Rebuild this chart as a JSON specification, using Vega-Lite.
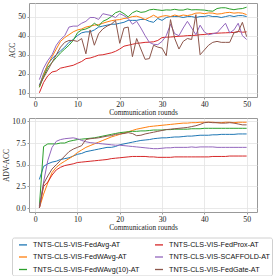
{
  "$schema": "https://vega.github.io/schema/vega-lite/v6.json",
  "padding": {"left": 1, "top": 2, "right": 0, "bottom": 0},
  "bounds": "flush",
  "spacing": 21,
  "datasets": {
    "runs": [
      {"r":1,"k":"FedAvg","acc":14,"adv":3.3},{"r":2,"k":"FedAvg","acc":20,"adv":4.8},{"r":3,"k":"FedAvg","acc":25,"adv":5.1},{"r":4,"k":"FedAvg","acc":28,"adv":5.3},{"r":5,"k":"FedAvg","acc":30,"adv":5.4},{"r":6,"k":"FedAvg","acc":32,"adv":5.6},{"r":7,"k":"FedAvg","acc":34,"adv":5.7},{"r":8,"k":"FedAvg","acc":36.5,"adv":5.8},{"r":9,"k":"FedAvg","acc":38,"adv":6.0},{"r":10,"k":"FedAvg","acc":40,"adv":6.2},
      {"r":11,"k":"FedAvg","acc":41.5,"adv":6.3},{"r":12,"k":"FedAvg","acc":42,"adv":6.5},{"r":13,"k":"FedAvg","acc":42,"adv":6.6},{"r":14,"k":"FedAvg","acc":43,"adv":6.7},{"r":15,"k":"FedAvg","acc":44.5,"adv":6.8},{"r":16,"k":"FedAvg","acc":45,"adv":6.9},{"r":17,"k":"FedAvg","acc":45.5,"adv":7.0},{"r":18,"k":"FedAvg","acc":46,"adv":7.0},{"r":19,"k":"FedAvg","acc":46,"adv":7.1},{"r":20,"k":"FedAvg","acc":46.5,"adv":7.3},
      {"r":21,"k":"FedAvg","acc":47,"adv":7.4},{"r":22,"k":"FedAvg","acc":48,"adv":7.5},{"r":23,"k":"FedAvg","acc":48,"adv":7.6},{"r":24,"k":"FedAvg","acc":48,"adv":7.7},{"r":25,"k":"FedAvg","acc":48.5,"adv":7.8},{"r":26,"k":"FedAvg","acc":48.5,"adv":7.85},{"r":27,"k":"FedAvg","acc":47.5,"adv":7.9},{"r":28,"k":"FedAvg","acc":47,"adv":8.0},{"r":29,"k":"FedAvg","acc":49,"adv":8.05},{"r":30,"k":"FedAvg","acc":48,"adv":8.1},
      {"r":31,"k":"FedAvg","acc":49.5,"adv":8.1},{"r":32,"k":"FedAvg","acc":50,"adv":8.15},{"r":33,"k":"FedAvg","acc":50,"adv":8.2},{"r":34,"k":"FedAvg","acc":50,"adv":8.2},{"r":35,"k":"FedAvg","acc":49.5,"adv":8.25},{"r":36,"k":"FedAvg","acc":50,"adv":8.3},{"r":37,"k":"FedAvg","acc":50,"adv":8.3},{"r":38,"k":"FedAvg","acc":49.5,"adv":8.35},{"r":39,"k":"FedAvg","acc":50,"adv":8.4},{"r":40,"k":"FedAvg","acc":50,"adv":8.4},
      {"r":41,"k":"FedAvg","acc":50.5,"adv":8.4},{"r":42,"k":"FedAvg","acc":50,"adv":8.45},{"r":43,"k":"FedAvg","acc":50,"adv":8.45},{"r":44,"k":"FedAvg","acc":49.5,"adv":8.5},{"r":45,"k":"FedAvg","acc":50,"adv":8.5},{"r":46,"k":"FedAvg","acc":50.5,"adv":8.5},{"r":47,"k":"FedAvg","acc":50,"adv":8.5},{"r":48,"k":"FedAvg","acc":50.5,"adv":8.55},{"r":49,"k":"FedAvg","acc":50.5,"adv":8.55},{"r":50,"k":"FedAvg","acc":50,"adv":8.55},

      {"r":1,"k":"FedWAvg","acc":13,"adv":0},{"r":2,"k":"FedWAvg","acc":19.5,"adv":1.6},{"r":3,"k":"FedWAvg","acc":25,"adv":2.9},{"r":4,"k":"FedWAvg","acc":29,"adv":4.1},{"r":5,"k":"FedWAvg","acc":33,"adv":4.7},{"r":6,"k":"FedWAvg","acc":37,"adv":5.1},{"r":7,"k":"FedWAvg","acc":39,"adv":5.4},{"r":8,"k":"FedWAvg","acc":40.5,"adv":5.7},{"r":9,"k":"FedWAvg","acc":42,"adv":6.0},{"r":10,"k":"FedWAvg","acc":43,"adv":6.4},
      {"r":11,"k":"FedWAvg","acc":43.5,"adv":6.7},{"r":12,"k":"FedWAvg","acc":44.5,"adv":7.0},{"r":13,"k":"FedWAvg","acc":45,"adv":7.2},{"r":14,"k":"FedWAvg","acc":45.5,"adv":7.4},{"r":15,"k":"FedWAvg","acc":45.8,"adv":7.6},{"r":16,"k":"FedWAvg","acc":46.5,"adv":7.8},{"r":17,"k":"FedWAvg","acc":47.2,"adv":8.0},{"r":18,"k":"FedWAvg","acc":47.8,"adv":8.2},{"r":19,"k":"FedWAvg","acc":48.2,"adv":8.35},{"r":20,"k":"FedWAvg","acc":48.4,"adv":8.5},
      {"r":21,"k":"FedWAvg","acc":49,"adv":8.65},{"r":22,"k":"FedWAvg","acc":49.3,"adv":8.8},{"r":23,"k":"FedWAvg","acc":50,"adv":8.95},{"r":24,"k":"FedWAvg","acc":50.2,"adv":9.1},{"r":25,"k":"FedWAvg","acc":49.5,"adv":9.2},{"r":26,"k":"FedWAvg","acc":48.4,"adv":9.3},{"r":27,"k":"FedWAvg","acc":49.5,"adv":9.4},{"r":28,"k":"FedWAvg","acc":50.7,"adv":9.45},{"r":29,"k":"FedWAvg","acc":49.5,"adv":9.5},{"r":30,"k":"FedWAvg","acc":50.2,"adv":9.55},
      {"r":31,"k":"FedWAvg","acc":50.5,"adv":9.6},{"r":32,"k":"FedWAvg","acc":50,"adv":9.65},{"r":33,"k":"FedWAvg","acc":50.8,"adv":9.7},{"r":34,"k":"FedWAvg","acc":50.2,"adv":9.75},{"r":35,"k":"FedWAvg","acc":50.8,"adv":9.8},{"r":36,"k":"FedWAvg","acc":50.5,"adv":9.8},{"r":37,"k":"FedWAvg","acc":51,"adv":9.85},{"r":38,"k":"FedWAvg","acc":51.8,"adv":9.85},{"r":39,"k":"FedWAvg","acc":51.9,"adv":9.9},{"r":40,"k":"FedWAvg","acc":51.5,"adv":9.9},
      {"r":41,"k":"FedWAvg","acc":51.9,"adv":9.9},{"r":42,"k":"FedWAvg","acc":51.8,"adv":9.9},{"r":43,"k":"FedWAvg","acc":51.3,"adv":9.85},{"r":44,"k":"FedWAvg","acc":51.5,"adv":9.85},{"r":45,"k":"FedWAvg","acc":52,"adv":9.9},{"r":46,"k":"FedWAvg","acc":52.2,"adv":9.9},{"r":47,"k":"FedWAvg","acc":51.8,"adv":9.85},{"r":48,"k":"FedWAvg","acc":52,"adv":9.9},{"r":49,"k":"FedWAvg","acc":51.8,"adv":9.9},{"r":50,"k":"FedWAvg","acc":51,"adv":9.9},

      {"r":1,"k":"FedWAvg(10)","acc":13,"adv":0.2},{"r":2,"k":"FedWAvg(10)","acc":18.5,"adv":7.1},{"r":3,"k":"FedWAvg(10)","acc":23.5,"adv":7.4},{"r":4,"k":"FedWAvg(10)","acc":26,"adv":7.4},{"r":5,"k":"FedWAvg(10)","acc":28.5,"adv":7.4},{"r":6,"k":"FedWAvg(10)","acc":31,"adv":7.5},{"r":7,"k":"FedWAvg(10)","acc":33,"adv":7.5},{"r":8,"k":"FedWAvg(10)","acc":35,"adv":7.7},{"r":9,"k":"FedWAvg(10)","acc":37.5,"adv":7.8},{"r":10,"k":"FedWAvg(10)","acc":41.5,"adv":7.9},
      {"r":11,"k":"FedWAvg(10)","acc":43,"adv":7.95},{"r":12,"k":"FedWAvg(10)","acc":43.5,"adv":8.0},{"r":13,"k":"FedWAvg(10)","acc":44.5,"adv":8.05},{"r":14,"k":"FedWAvg(10)","acc":46.5,"adv":8.1},{"r":15,"k":"FedWAvg(10)","acc":45,"adv":8.2},{"r":16,"k":"FedWAvg(10)","acc":47.5,"adv":8.3},{"r":17,"k":"FedWAvg(10)","acc":48.5,"adv":8.4},{"r":18,"k":"FedWAvg(10)","acc":50,"adv":8.5},{"r":19,"k":"FedWAvg(10)","acc":52,"adv":8.6},{"r":20,"k":"FedWAvg(10)","acc":52.8,"adv":8.7},
      {"r":21,"k":"FedWAvg(10)","acc":51.5,"adv":8.75},{"r":22,"k":"FedWAvg(10)","acc":49.8,"adv":8.8},{"r":23,"k":"FedWAvg(10)","acc":52,"adv":8.85},{"r":24,"k":"FedWAvg(10)","acc":53,"adv":8.85},{"r":25,"k":"FedWAvg(10)","acc":52.2,"adv":8.9},{"r":26,"k":"FedWAvg(10)","acc":52.5,"adv":8.9},{"r":27,"k":"FedWAvg(10)","acc":53.5,"adv":8.95},{"r":28,"k":"FedWAvg(10)","acc":53.8,"adv":9.0},{"r":29,"k":"FedWAvg(10)","acc":53.5,"adv":9.0},{"r":30,"k":"FedWAvg(10)","acc":53.2,"adv":9.0},
      {"r":31,"k":"FedWAvg(10)","acc":53.5,"adv":9.05},{"r":32,"k":"FedWAvg(10)","acc":53.4,"adv":9.05},{"r":33,"k":"FedWAvg(10)","acc":53.8,"adv":9.1},{"r":34,"k":"FedWAvg(10)","acc":53.4,"adv":9.1},{"r":35,"k":"FedWAvg(10)","acc":53.4,"adv":9.1},{"r":36,"k":"FedWAvg(10)","acc":54,"adv":9.1},{"r":37,"k":"FedWAvg(10)","acc":53.5,"adv":9.15},{"r":38,"k":"FedWAvg(10)","acc":53.6,"adv":9.15},{"r":39,"k":"FedWAvg(10)","acc":53.5,"adv":9.15},{"r":40,"k":"FedWAvg(10)","acc":53.4,"adv":9.2},
      {"r":41,"k":"FedWAvg(10)","acc":53,"adv":9.2},{"r":42,"k":"FedWAvg(10)","acc":52.8,"adv":9.2},{"r":43,"k":"FedWAvg(10)","acc":54.2,"adv":9.2},{"r":44,"k":"FedWAvg(10)","acc":54.6,"adv":9.2},{"r":45,"k":"FedWAvg(10)","acc":54.6,"adv":9.2},{"r":46,"k":"FedWAvg(10)","acc":54,"adv":9.2},{"r":47,"k":"FedWAvg(10)","acc":53.6,"adv":9.2},{"r":48,"k":"FedWAvg(10)","acc":54,"adv":9.2},{"r":49,"k":"FedWAvg(10)","acc":54.2,"adv":9.2},{"r":50,"k":"FedWAvg(10)","acc":54.9,"adv":9.2},

      {"r":1,"k":"FedProx","acc":10.1,"adv":0},{"r":2,"k":"FedProx","acc":15.5,"adv":2.5},{"r":3,"k":"FedProx","acc":19,"adv":3.0},{"r":4,"k":"FedProx","acc":21,"adv":3.8},{"r":5,"k":"FedProx","acc":21.5,"adv":4.4},{"r":6,"k":"FedProx","acc":23,"adv":4.7},{"r":7,"k":"FedProx","acc":23.5,"adv":4.9},{"r":8,"k":"FedProx","acc":24,"adv":5.0},{"r":9,"k":"FedProx","acc":24.5,"adv":5.1},{"r":10,"k":"FedProx","acc":25.5,"adv":5.25},
      {"r":11,"k":"FedProx","acc":26.5,"adv":5.3},{"r":12,"k":"FedProx","acc":28,"adv":5.35},{"r":13,"k":"FedProx","acc":28.3,"adv":5.4},{"r":14,"k":"FedProx","acc":29,"adv":5.45},{"r":15,"k":"FedProx","acc":29.8,"adv":5.5},{"r":16,"k":"FedProx","acc":30,"adv":5.55},{"r":17,"k":"FedProx","acc":30.5,"adv":5.6},{"r":18,"k":"FedProx","acc":31,"adv":5.7},{"r":19,"k":"FedProx","acc":31.8,"adv":5.75},{"r":20,"k":"FedProx","acc":33,"adv":5.8},
      {"r":21,"k":"FedProx","acc":34.5,"adv":5.85},{"r":22,"k":"FedProx","acc":35,"adv":5.9},{"r":23,"k":"FedProx","acc":35.5,"adv":5.95},{"r":24,"k":"FedProx","acc":36,"adv":5.95},{"r":25,"k":"FedProx","acc":36.2,"adv":5.95},{"r":26,"k":"FedProx","acc":36.5,"adv":5.95},{"r":27,"k":"FedProx","acc":36.6,"adv":5.9},{"r":28,"k":"FedProx","acc":36.8,"adv":5.9},{"r":29,"k":"FedProx","acc":37.5,"adv":5.85},{"r":30,"k":"FedProx","acc":39,"adv":5.85},
      {"r":31,"k":"FedProx","acc":39.2,"adv":5.85},{"r":32,"k":"FedProx","acc":39.3,"adv":5.85},{"r":33,"k":"FedProx","acc":39.5,"adv":5.9},{"r":34,"k":"FedProx","acc":39.7,"adv":5.9},{"r":35,"k":"FedProx","acc":39.8,"adv":5.9},{"r":36,"k":"FedProx","acc":40,"adv":5.9},{"r":37,"k":"FedProx","acc":40.1,"adv":5.9},{"r":38,"k":"FedProx","acc":40.2,"adv":5.9},{"r":39,"k":"FedProx","acc":40.5,"adv":5.9},{"r":40,"k":"FedProx","acc":40.6,"adv":5.9},
      {"r":41,"k":"FedProx","acc":41,"adv":5.9},{"r":42,"k":"FedProx","acc":41.2,"adv":5.95},{"r":43,"k":"FedProx","acc":41.3,"adv":5.95},{"r":44,"k":"FedProx","acc":41.4,"adv":5.95},{"r":45,"k":"FedProx","acc":41.5,"adv":5.95},{"r":46,"k":"FedProx","acc":41.6,"adv":6.0},{"r":47,"k":"FedProx","acc":41.7,"adv":6.0},{"r":48,"k":"FedProx","acc":42.2,"adv":6.0},{"r":49,"k":"FedProx","acc":41.8,"adv":6.0},{"r":50,"k":"FedProx","acc":42,"adv":6.0},

      {"r":1,"k":"SCAFFOLD","acc":17,"adv":0},{"r":2,"k":"SCAFFOLD","acc":23,"adv":3.0},{"r":3,"k":"SCAFFOLD","acc":27,"adv":5.5},{"r":4,"k":"SCAFFOLD","acc":30,"adv":7.0},{"r":5,"k":"SCAFFOLD","acc":35,"adv":7.7},{"r":6,"k":"SCAFFOLD","acc":38,"adv":7.9},{"r":7,"k":"SCAFFOLD","acc":40,"adv":8.0},{"r":8,"k":"SCAFFOLD","acc":44.5,"adv":8.05},{"r":9,"k":"SCAFFOLD","acc":45,"adv":8.1},{"r":10,"k":"SCAFFOLD","acc":45,"adv":8.0},
      {"r":11,"k":"SCAFFOLD","acc":46.5,"adv":7.8},{"r":12,"k":"SCAFFOLD","acc":47.5,"adv":7.65},{"r":13,"k":"SCAFFOLD","acc":49.5,"adv":7.55},{"r":14,"k":"SCAFFOLD","acc":49.5,"adv":7.5},{"r":15,"k":"SCAFFOLD","acc":48.5,"adv":7.45},{"r":16,"k":"SCAFFOLD","acc":51.5,"adv":7.4},{"r":17,"k":"SCAFFOLD","acc":51,"adv":7.35},{"r":18,"k":"SCAFFOLD","acc":50.5,"adv":7.3},{"r":19,"k":"SCAFFOLD","acc":49.5,"adv":7.25},{"r":20,"k":"SCAFFOLD","acc":51.5,"adv":7.25},
      {"r":21,"k":"SCAFFOLD","acc":50.5,"adv":7.2},{"r":22,"k":"SCAFFOLD","acc":49,"adv":7.15},{"r":23,"k":"SCAFFOLD","acc":46,"adv":7.1},{"r":24,"k":"SCAFFOLD","acc":47.5,"adv":7.05},{"r":25,"k":"SCAFFOLD","acc":44,"adv":7.0},{"r":26,"k":"SCAFFOLD","acc":40,"adv":6.95},{"r":27,"k":"SCAFFOLD","acc":36.5,"adv":6.9},{"r":28,"k":"SCAFFOLD","acc":35.5,"adv":6.85},{"r":29,"k":"SCAFFOLD","acc":35.3,"adv":6.85},{"r":30,"k":"SCAFFOLD","acc":37,"adv":6.9},
      {"r":31,"k":"SCAFFOLD","acc":40,"adv":6.95},{"r":32,"k":"SCAFFOLD","acc":46,"adv":6.95},{"r":33,"k":"SCAFFOLD","acc":41,"adv":7.0},{"r":34,"k":"SCAFFOLD","acc":40,"adv":7.0},{"r":35,"k":"SCAFFOLD","acc":44,"adv":7.0},{"r":36,"k":"SCAFFOLD","acc":47.5,"adv":7.0},{"r":37,"k":"SCAFFOLD","acc":44,"adv":7.05},{"r":38,"k":"SCAFFOLD","acc":40.5,"adv":7.0},{"r":39,"k":"SCAFFOLD","acc":45.5,"adv":7.05},{"r":40,"k":"SCAFFOLD","acc":42,"adv":7.05},
      {"r":41,"k":"SCAFFOLD","acc":40.5,"adv":7.05},{"r":42,"k":"SCAFFOLD","acc":41,"adv":7.05},{"r":43,"k":"SCAFFOLD","acc":41.5,"adv":7.0},{"r":44,"k":"SCAFFOLD","acc":44,"adv":7.0},{"r":45,"k":"SCAFFOLD","acc":46.5,"adv":7.0},{"r":46,"k":"SCAFFOLD","acc":41.5,"adv":7.0},{"r":47,"k":"SCAFFOLD","acc":43,"adv":7.0},{"r":48,"k":"SCAFFOLD","acc":46.5,"adv":7.0},{"r":49,"k":"SCAFFOLD","acc":40,"adv":7.0},{"r":50,"k":"SCAFFOLD","acc":38,"adv":7.0},

      {"r":1,"k":"FedGate","acc":14,"adv":0},{"r":2,"k":"FedGate","acc":18,"adv":2.8},{"r":3,"k":"FedGate","acc":22,"adv":3.7},{"r":4,"k":"FedGate","acc":26,"adv":4.5},{"r":5,"k":"FedGate","acc":30,"adv":5.0},{"r":6,"k":"FedGate","acc":34,"adv":5.5},{"r":7,"k":"FedGate","acc":36.5,"adv":6.0},{"r":8,"k":"FedGate","acc":37.5,"adv":6.5},{"r":9,"k":"FedGate","acc":37.5,"adv":6.8},{"r":10,"k":"FedGate","acc":37,"adv":7.0},
      {"r":11,"k":"FedGate","acc":38.5,"adv":7.2},{"r":12,"k":"FedGate","acc":30.5,"adv":7.9},{"r":13,"k":"FedGate","acc":43,"adv":8.0},{"r":14,"k":"FedGate","acc":35,"adv":8.05},{"r":15,"k":"FedGate","acc":41,"adv":8.1},{"r":16,"k":"FedGate","acc":43.5,"adv":8.2},{"r":17,"k":"FedGate","acc":45,"adv":8.3},{"r":18,"k":"FedGate","acc":46,"adv":8.35},{"r":19,"k":"FedGate","acc":48,"adv":8.5},{"r":20,"k":"FedGate","acc":36,"adv":8.55},
      {"r":21,"k":"FedGate","acc":44,"adv":8.6},{"r":22,"k":"FedGate","acc":44.5,"adv":8.7},{"r":23,"k":"FedGate","acc":29,"adv":8.6},{"r":24,"k":"FedGate","acc":38.5,"adv":8.35},{"r":25,"k":"FedGate","acc":33,"adv":8.4},{"r":26,"k":"FedGate","acc":27.6,"adv":8.55},{"r":27,"k":"FedGate","acc":28,"adv":8.65},{"r":28,"k":"FedGate","acc":35,"adv":8.75},{"r":29,"k":"FedGate","acc":34,"adv":8.85},{"r":30,"k":"FedGate","acc":33.5,"adv":8.95},
      {"r":31,"k":"FedGate","acc":29.5,"adv":9.05},{"r":32,"k":"FedGate","acc":48.4,"adv":9.1},{"r":33,"k":"FedGate","acc":38.5,"adv":9.15},{"r":34,"k":"FedGate","acc":33,"adv":9.2},{"r":35,"k":"FedGate","acc":37,"adv":9.25},{"r":36,"k":"FedGate","acc":38.5,"adv":9.3},{"r":37,"k":"FedGate","acc":38,"adv":9.4},{"r":38,"k":"FedGate","acc":51,"adv":9.5},{"r":39,"k":"FedGate","acc":30,"adv":9.65},{"r":40,"k":"FedGate","acc":32.5,"adv":9.85},
      {"r":41,"k":"FedGate","acc":35,"adv":9.9},{"r":42,"k":"FedGate","acc":36.5,"adv":9.85},{"r":43,"k":"FedGate","acc":37,"adv":9.85},{"r":44,"k":"FedGate","acc":36.5,"adv":9.8},{"r":45,"k":"FedGate","acc":36.5,"adv":9.8},{"r":46,"k":"FedGate","acc":36.5,"adv":9.85},{"r":47,"k":"FedGate","acc":41.5,"adv":9.8},{"r":48,"k":"FedGate","acc":42,"adv":9.7},{"r":49,"k":"FedGate","acc":47,"adv":9.6},{"r":50,"k":"FedGate","acc":39.5,"adv":9.6}
    ]
  },
  "config": {
    "view": {"stroke": "#999999", "strokeWidth": 1},
    "axis": {
      "grid": true, "gridColor": "#e3e3e3", "gridWidth": 0.8,
      "domain": false, "tickColor": "#999999", "tickSize": 2, "labelPadding": 1.5,
      "labelFont": "Liberation Serif", "labelFontSize": 7.8, "labelColor": "#222222",
      "titleFont": "Liberation Serif", "titleFontSize": 7.3, "titleFontWeight": "normal", "titleColor": "#222222",
      "titlePadding": 1.5
    },
    "axisX": {"titlePadding": 0},
    "legend": {
      "orient": "none", "legendX": -17, "legendY": 234.5, "columns": 2,
      "symbolType": "stroke", "symbolSize": 64, "symbolStrokeWidth": 1.3, "symbolOffset": 4,
      "labelFont": "Liberation Sans", "labelFontSize": 7.2, "labelColor": "#111111", "labelLimit": 0, "labelOffset": 5,
      "strokeColor": "#d0d0d0", "cornerRadius": 2, "padding": 2, "rowPadding": 3.5, "columnPadding": 10,
      "fillColor": "#ffffff"
    }
  },
  "data": {"name": "runs"},
  "vconcat": [
    {
      "width": 228, "height": 94,
      "mark": {"type": "line", "strokeWidth": 1, "clip": true},
      "encoding": {
        "x": {"field": "r", "type": "quantitative", "scale": {"domain": [-1.45, 52.45], "nice": false, "zero": false}, "axis": {"values": [0, 10, 20, 30, 40, 50], "title": "Communication rounds"}},
        "y": {"field": "acc", "type": "quantitative", "scale": {"domain": [7.9, 57.1], "nice": false, "zero": false}, "axis": {"values": [10, 20, 30, 40, 50], "title": "ACC"}},
        "color": {"field": "k", "type": "nominal",
          "scale": {"domain": ["FedAvg", "FedWAvg", "FedWAvg(10)", "FedProx", "SCAFFOLD", "FedGate"], "range": ["#1f77b4", "#ff7f0e", "#2ca02c", "#d62728", "#9467bd", "#8c564b"]},
          "legend": {"title": null, "labelExpr": "'TNTS-CLS-VIS-' + datum.label + '-AT'"}}
      }
    },
    {
      "width": 228, "height": 94,
      "mark": {"type": "line", "strokeWidth": 1, "clip": true},
      "encoding": {
        "x": {"field": "r", "type": "quantitative", "scale": {"domain": [-1.45, 52.45], "nice": false, "zero": false}, "axis": {"values": [0, 10, 20, 30, 40, 50], "title": "Communication rounds"}},
        "y": {"field": "adv", "type": "quantitative", "scale": {"domain": [-0.46, 10.39], "nice": false, "zero": false}, "axis": {"values": [0, 2.5, 5, 7.5, 10], "format": ".1f", "title": "ADV-ACC"}},
        "color": {"field": "k", "type": "nominal",
          "scale": {"domain": ["FedAvg", "FedWAvg", "FedWAvg(10)", "FedProx", "SCAFFOLD", "FedGate"], "range": ["#1f77b4", "#ff7f0e", "#2ca02c", "#d62728", "#9467bd", "#8c564b"]},
          "legend": {"title": null, "labelExpr": "'TNTS-CLS-VIS-' + datum.label + '-AT'"}}
      }
    }
  ]
}
